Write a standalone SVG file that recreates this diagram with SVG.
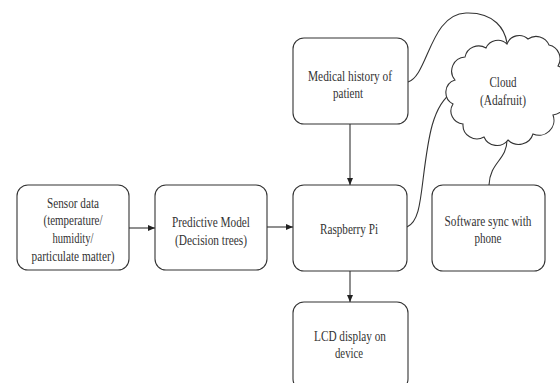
<svg xmlns="http://www.w3.org/2000/svg" width="560" height="383" viewBox="0 0 560 383">
<style>
.box{fill:#fff;stroke:#333;stroke-width:1.1}
.t{font-family:"Liberation Serif","Times New Roman",serif;font-size:15px;fill:#333;text-anchor:middle}
.c{fill:none;stroke:#333;stroke-width:1.1}
</style>
<defs>
<marker id="ah" markerWidth="8" markerHeight="8" refX="7" refY="4" orient="auto" markerUnits="userSpaceOnUse">
<path d="M0,1 L7,4 L0,7 Z" fill="#222"/>
</marker>
</defs>
<rect width="560" height="383" fill="#fff"/>
<g id="connectors">
<line class="c" x1="129" y1="228" x2="155" y2="228" marker-end="url(#ah)"/>
<line class="c" x1="267" y1="227" x2="293" y2="227" marker-end="url(#ah)"/>
<line class="c" x1="350" y1="124" x2="350" y2="185" marker-end="url(#ah)"/>
<line class="c" x1="350" y1="271" x2="350" y2="302" marker-end="url(#ah)"/>
<path class="c" d="M408,82 C428,76 430,14 466,13 C495,12 505,30 507,43"/>
<path class="c" d="M407,227 C418,222 420,205 423,180 C428,140 432,105 453,92"/>
<path class="c" d="M507,140 C507,160 490,162 489,185"/>
</g>
<g id="sensor">
<rect class="box" x="17" y="185" width="112" height="85" rx="11"/>
<text class="t" x="73" y="208" textLength="52" lengthAdjust="spacingAndGlyphs">Sensor data</text>
<text class="t" x="73" y="225" textLength="59" lengthAdjust="spacingAndGlyphs">(temperature/</text>
<text class="t" x="73" y="243" textLength="41" lengthAdjust="spacingAndGlyphs">humidity/</text>
<text class="t" x="73" y="261" textLength="83" lengthAdjust="spacingAndGlyphs">particulate matter)</text>
</g>
<g id="predictive">
<rect class="box" x="155" y="185" width="112" height="85" rx="11"/>
<text class="t" x="211" y="227" textLength="78" lengthAdjust="spacingAndGlyphs">Predictive Model</text>
<text class="t" x="211" y="245" textLength="72" lengthAdjust="spacingAndGlyphs">(Decision trees)</text>
</g>
<g id="medical">
<rect class="box" x="293" y="38" width="115" height="86" rx="11"/>
<text class="t" x="350" y="81" textLength="84" lengthAdjust="spacingAndGlyphs">Medical history of</text>
<text class="t" x="348" y="98" textLength="30" lengthAdjust="spacingAndGlyphs">patient</text>
</g>
<g id="raspberry">
<rect class="box" x="293" y="185" width="114" height="86" rx="11"/>
<text class="t" x="349" y="234" textLength="58" lengthAdjust="spacingAndGlyphs">Raspberry Pi</text>
</g>
<g id="software">
<rect class="box" x="432" y="185" width="113" height="86" rx="11"/>
<text class="t" x="488" y="226" textLength="87" lengthAdjust="spacingAndGlyphs">Software sync with</text>
<text class="t" x="488" y="243" textLength="27" lengthAdjust="spacingAndGlyphs">phone</text>
</g>
<g id="lcd">
<rect class="box" x="293" y="302" width="115" height="88" rx="11"/>
<text class="t" x="350" y="341" textLength="72" lengthAdjust="spacingAndGlyphs">LCD display on</text>
<text class="t" x="349" y="358" textLength="28" lengthAdjust="spacingAndGlyphs">device</text>
</g>
<g id="cloud">
<path class="box" d="M455,80 A14,14 0 0 1 465,57 A14,14 0 0 1 486,48 A13,13 0 0 1 507,44 A13,13 0 0 1 528,39 A14,14 0 0 1 549,45 A14,14 0 0 1 558,66 A14,14 0 0 1 562,90 A15,15 0 0 1 553,115 A15,15 0 0 1 533,134 A15,15 0 0 1 508,140 A14,14 0 0 1 484,137 A14,14 0 0 1 463,124 A13,13 0 0 1 453,104 A13,13 0 0 1 455,80 Z"/>
<text class="t" x="503" y="87" textLength="27" lengthAdjust="spacingAndGlyphs">Cloud</text>
<text class="t" x="503" y="105" textLength="46" lengthAdjust="spacingAndGlyphs">(Adafruit)</text>
</g>
</svg>
